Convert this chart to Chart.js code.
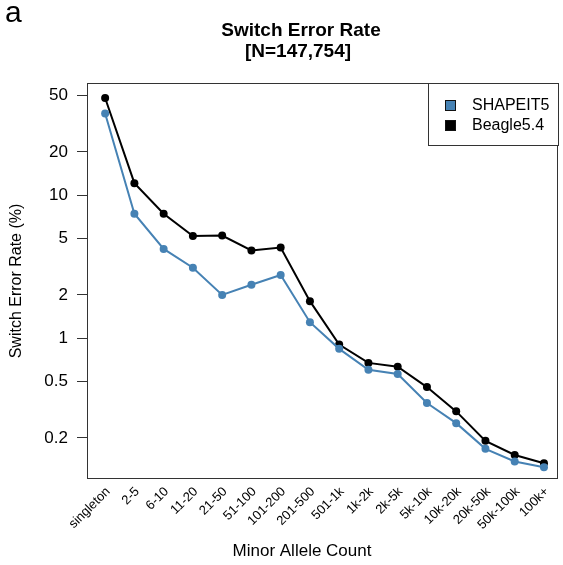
<!DOCTYPE html>
<html>
<head>
<meta charset="utf-8">
<script src="https://cdn.jsdelivr.net/npm/chart.js@4/dist/chart.umd.min.js"></script>
<style>
  html, body { margin: 0; padding: 0; background: #fff; }
  #wrap { width: 563px; height: 565px; }
</style>
</head>
<body>
<div id="wrap"><canvas id="chart" width="563" height="565"></canvas></div>
<script>
const categories = ["singleton", "2-5", "6-10", "11-20", "21-50", "51-100", "101-200", "201-500",
  "501-1k", "1k-2k", "2k-5k", "5k-10k", "10k-20k", "20k-50k", "50k-100k", "100k+"];
const shapeit5 = [37.2, 7.4, 4.2, 3.1, 2.0, 2.36, 2.76, 1.29, 0.84, 0.60, 0.56, 0.351, 0.254, 0.168, 0.137, 0.125];
const beagle = [47.7, 12.1, 7.4, 5.16, 5.2, 4.1, 4.29, 1.81, 0.90, 0.67, 0.63, 0.454, 0.307, 0.191, 0.152, 0.133];
const yTicks = [0.2, 0.5, 1, 2, 5, 10, 20, 50];
const seriesNames = ["SHAPEIT5", "Beagle5.4"];
const seriesColors = ["#4682b4", "#000000"];

const FONT = "'Liberation Sans', Arial, sans-serif";

// titles, box and legend drawn by hand
const extras = {
  id: "extras",
  afterDraw(chart) {
    const ctx = chart.ctx;
    const a = chart.chartArea;
    ctx.save();
    ctx.strokeStyle = "#333";
    ctx.lineWidth = 1;
    ctx.strokeRect(a.left + 0.5, a.top + 0.5, a.right - a.left - 1, a.bottom - a.top);

    ctx.fillStyle = "#000";
    ctx.textBaseline = "middle";
    ctx.textAlign = "left";
    ctx.font = "30px " + FONT;
    ctx.fillText("a", 5, 14);

    ctx.textAlign = "center";
    ctx.font = "bold 19px " + FONT;
    ctx.fillText("Switch Error Rate", 301, 31);
    ctx.fillText("[N=147,754]", 298, 52);

    ctx.font = "17px " + FONT;
    ctx.fillText("Minor Allele Count", 302, 551);

    ctx.save();
    ctx.translate(17, 281);
    ctx.rotate(-Math.PI / 2);
    ctx.font = "16px " + FONT;
    ctx.fillText("Switch Error Rate (%)", 0, 0);
    ctx.restore();

    // legend
    const lx = 428, ly = a.top, lw = a.right - lx, lh = 62;
    ctx.fillStyle = "#fff";
    ctx.fillRect(lx, ly, lw, lh);
    ctx.strokeStyle = "#333";
    ctx.strokeRect(lx + 0.5, ly + 0.5, lw, lh);
    ctx.font = "16px " + FONT;
    ctx.textAlign = "left";
    chart.data.datasets.forEach((ds, i) => {
      const cy = ly + 22 + i * 20;
      ctx.fillStyle = ds.borderColor;
      ctx.fillRect(445, cy - 5, 11, 11);
      ctx.strokeStyle = "#111";
      ctx.strokeRect(445.5, cy - 4.5, 10, 10);
      ctx.fillStyle = "#000";
      ctx.fillText(ds.label, 472, cy + 1);
    });
    ctx.restore();
  }
};

new Chart(document.getElementById("chart"), {
  type: "line",
  data: {
    datasets: [shapeit5, beagle].map((vals, i) => ({
      label: seriesNames[i],
      data: vals.map((v, j) => ({ x: j, y: v })),
      borderColor: seriesColors[i],
      backgroundColor: seriesColors[i],
      borderWidth: 2,
      pointRadius: 4,
      pointHoverRadius: 4,
      pointBorderWidth: 0,
      tension: 0,
    })),
  },
  options: {
    responsive: false,
    animation: false,
    layout: { padding: { top: 83, right: 5, left: 0, bottom: 0 } },
    plugins: { legend: { display: false }, title: { display: false }, tooltip: { enabled: false } },
    scales: {
      x: {
        type: "linear",
        min: -0.62,
        max: 15.48,
        afterBuildTicks: (s) => { s.ticks = categories.map((c, i) => ({ value: i })); },
        afterFit: (s) => { s.height = 87; },
        grid: { display: false },
        border: { display: false },
        ticks: {
          autoSkip: false,
          minRotation: 45,
          maxRotation: 45,
          padding: -2,
          labelOffset: 3,
          color: "#000",
          font: { family: FONT, size: 13 },
          callback: (v) => categories[v],
        },
      },
      y: {
        type: "logarithmic",
        min: 0.105,
        max: 60.7,
        afterBuildTicks: (s) => { s.ticks = yTicks.map((v) => ({ value: v })); },
        afterFit: (s) => { s.width = 87; },
        grid: { drawOnChartArea: false, drawTicks: true, tickLength: 10, color: "#333" },
        border: { display: false },
        ticks: {
          padding: 9,
          color: "#000",
          font: { family: FONT, size: 17 },
          callback: (v) => String(v),
        },
      },
    },
  },
  plugins: [extras],
});
</script>
</body>
</html>
